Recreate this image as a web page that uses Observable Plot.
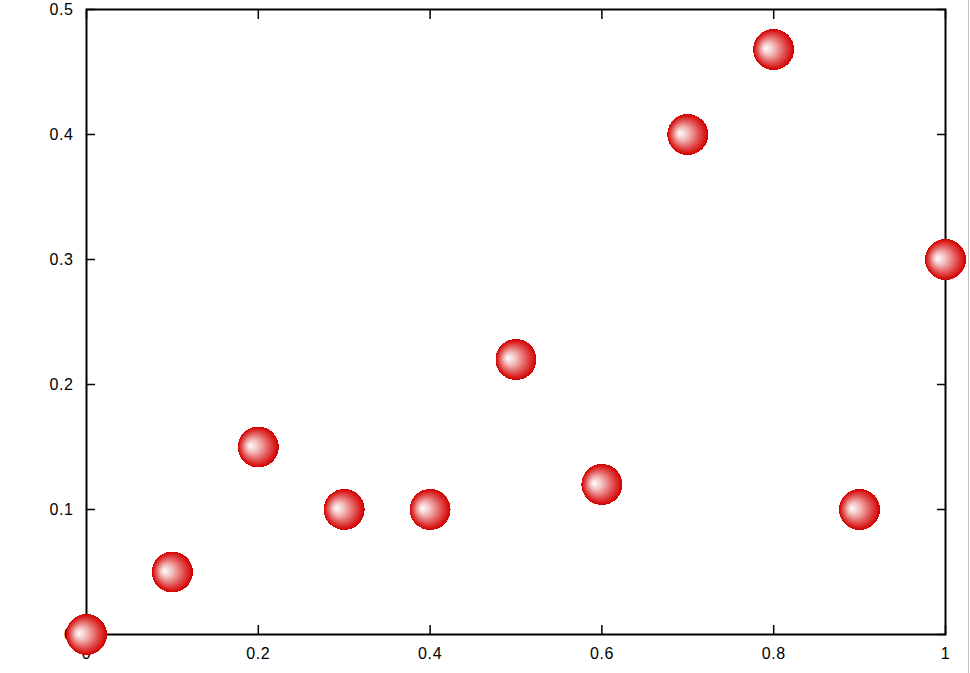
<!DOCTYPE html>
<html><head><meta charset="utf-8">
<script src="https://cdn.jsdelivr.net/npm/d3@7"></script>
<script src="https://cdn.jsdelivr.net/npm/@observablehq/plot@0.6"></script>
<style>
body{margin:0;background:#fff}
#wrap{position:relative;width:970px;height:673px;overflow:hidden}
#edge{position:absolute;left:968px;top:0;width:1px;height:673px;background:#c4c4c4}
</style>
</head><body><div id="wrap"><div id="chart"></div><div id="edge"></div></div>
<script>
const xs = [0, 0.1, 0.2, 0.3, 0.4, 0.5, 0.6, 0.7, 0.8, 0.9, 1];
const ys = [0, 0.05, 0.15, 0.1, 0.1, 0.22, 0.12, 0.4, 0.468, 0.1, 0.3];
const xTicks = [0, 0.2, 0.4, 0.6, 0.8, 1];
const yTicks = [0, 0.1, 0.2, 0.3, 0.4, 0.5];
const data = xs.map((x, i) => ({x, y: ys[i]}));
const fmt = d => String(+d.toFixed(2));
const blank = () => "";

const plot = Plot.plot({
  width: 970, height: 673,
  marginLeft: 86, marginRight: 25, marginTop: 9, marginBottom: 39,
  x: {domain: [0, 1]},
  y: {domain: [0, 0.5]},
  style: {fontFamily: "'Liberation Sans', Arial, sans-serif", fontSize: "16px", color: "#000", background: "#fff", letterSpacing: "0.6px"},
  marks: [
    Plot.axisX({anchor: "bottom", ticks: xTicks, tickSize: -9, tickPadding: 22, tickFormat: fmt, label: null, strokeWidth: 1.5}),
    Plot.axisX({anchor: "top", ticks: xTicks, tickSize: -9, tickFormat: blank, label: null, strokeWidth: 1.5}),
    Plot.axisY({anchor: "left", ticks: yTicks, tickSize: -9, tickPadding: 22, tickFormat: fmt, label: null, strokeWidth: 1.5}),
    Plot.axisY({anchor: "right", ticks: yTicks, tickSize: -9, tickFormat: blank, label: null, strokeWidth: 1.5}),
    Plot.frame({stroke: "#000", strokeWidth: 2}),
    Plot.dot(data, {x: "x", y: "y", r: 20.5, fill: "url(#sphere)", stroke: "none", shapeRendering: "crispEdges"})
  ]
});

const ns = "http://www.w3.org/2000/svg";
const defs = document.createElementNS(ns, "defs");
defs.innerHTML = `<radialGradient id="sphere" cx="0.5" cy="0.5" r="0.5" fx="0.3" fy="0.47">
  <stop offset="0" stop-color="#ffffff"/>
  <stop offset="0.3" stop-color="#f2bcbc"/>
  <stop offset="0.7" stop-color="#e04a4a"/>
  <stop offset="0.9" stop-color="#d81616"/>
  <stop offset="1" stop-color="#cc0000"/>
</radialGradient>`;
plot.insertBefore(defs, plot.firstChild);
document.getElementById("chart").appendChild(plot);
</script>
</body></html>
